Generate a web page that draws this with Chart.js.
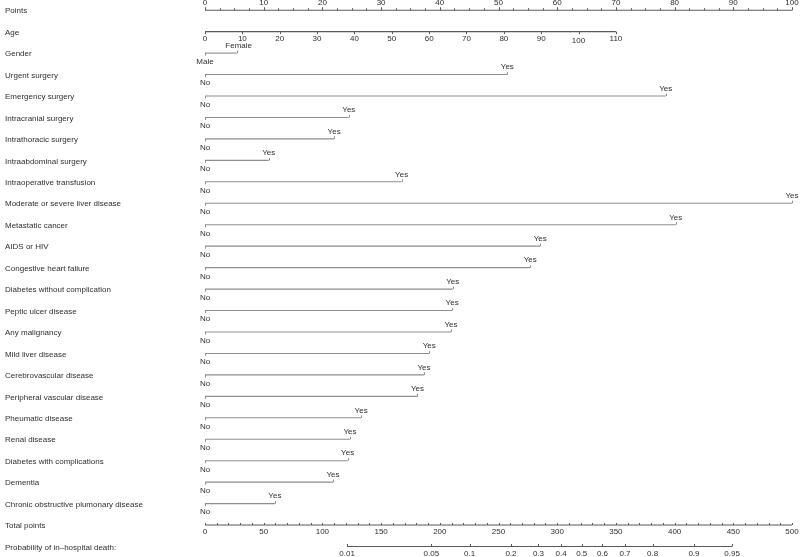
<!DOCTYPE html>
<html>
<head>
<meta charset="utf-8">
<script src="https://cdn.jsdelivr.net/npm/chart.js@4.4.1/dist/chart.umd.min.js"></script>
<style>
  html, body { margin: 0; padding: 0; background: #fff; }
  canvas { display: block; }
</style>
</head>
<body>
<canvas id="nomogram" width="800" height="557"></canvas>
<script>
// rows of the nomogram, top to bottom
const binaryVars = [
  "Urgent surgery",
  "Emergency surgery",
  "Intracranial surgery",
  "Intrathoracic surgery",
  "Intraabdominal surgery",
  "Intraoperative transfusion",
  "Moderate or severe liver disease",
  "Metastatic cancer",
  "AIDS or HIV",
  "Congestive heart failure",
  "Diabetes without complication",
  "Peptic ulcer disease",
  "Any malignancy",
  "Mild liver disease",
  "Cerebrovascular disease",
  "Peripheral vascular disease",
  "Pheumatic disease",
  "Renal disease",
  "Diabetes with complications",
  "Dementia",
  "Chronic obstructive plumonary disease",
];
// points given for "Yes" (No = 0)
const yesPoints = [51.5, 78.5, 24.5, 22.0, 10.85, 33.5, 100, 80.2, 57.1, 55.4, 42.2, 42.1, 41.9, 38.2, 37.3, 36.2, 26.6, 24.7, 24.3, 21.8, 11.9];

const pointTicks = [0, 10, 20, 30, 40, 50, 60, 70, 80, 90, 100];
const ageTicks = [0, 10, 20, 30, 40, 50, 60, 70, 80, 90, 100, 110];
const ageMaxPoints = 70; // age 110 -> 70 points
const genderLevels = ["Male", "Female"];
const genderPoints = [0, 5.4];
const totalTicks = [0, 50, 100, 150, 200, 250, 300, 350, 400, 450, 500];
const totalMax = 500;
const probTicks = [0.01, 0.05, 0.1, 0.2, 0.3, 0.4, 0.5, 0.6, 0.7, 0.8, 0.9, 0.95];
// total points at p = 0.5 and total points per logit unit
const probMid = 320.9;
const probSlope = 43.5;

const rowLabels = ["Points", "Age", "Gender"]
  .concat(binaryVars)
  .concat(["Total points", "Probability of in\u2013hospital death:"]);
const ROW_TOTAL = rowLabels.length - 2;
const ROW_PROB = rowLabels.length - 1;

const lineColor = "#8e8e8e";
const axisColor = "#5a5a5a";
const textColor = "#2e2e2e";
const FONT = "8px 'Liberation Sans', Arial, sans-serif";

const totalToPts = (t) => (t * 100) / totalMax;
const probToPts = (p) => totalToPts(probMid + probSlope * Math.log(p / (1 - p)));

function seg(x0, x1, row, color) {
  return {
    data: [{ x: x0, y: row }, { x: x1, y: row }],
    showLine: true,
    borderColor: color,
    borderWidth: 1.1,
    pointRadius: 0,
    clip: false,
  };
}

const datasets = [];
datasets.push(seg(0, 100, 0, axisColor));
datasets.push(seg(0, ageMaxPoints, 1, axisColor));
datasets.push(seg(genderPoints[0], genderPoints[1], 2, lineColor));
yesPoints.forEach((v, i) => datasets.push(seg(0, v, i + 3, lineColor)));
datasets.push(seg(0, 100, ROW_TOTAL, axisColor));
datasets.push(seg(probToPts(probTicks[0]), probToPts(probTicks[probTicks.length - 1]), ROW_PROB, axisColor));

const nomogramText = {
  id: "nomogramText",
  afterDatasetsDraw(chart) {
    const { ctx, scales } = chart;
    const X = (v) => scales.x.getPixelForValue(v);
    const Y = (r) => scales.y.getPixelForValue(r);
    ctx.save();
    ctx.font = FONT;
    ctx.fillStyle = textColor;
    ctx.textBaseline = "middle";

    // left labels
    ctx.textAlign = "left";
    rowLabels.forEach((lab, r) => ctx.fillText(lab, 5, Y(r) + 1));

    const tick = (x, y, len, color) => {
      ctx.strokeStyle = color;
      ctx.lineWidth = 1;
      ctx.beginPath();
      ctx.moveTo(Math.round(x) + 0.5, y);
      ctx.lineTo(Math.round(x) + 0.5, y + len);
      ctx.stroke();
    };

    ctx.textAlign = "center";
    // Points axis
    for (let v = 0; v <= 100; v += 2.5) tick(X(v), Y(0), -2, axisColor);
    pointTicks.forEach((v) => {
      tick(X(v), Y(0), -3, axisColor);
      ctx.fillText(String(v), X(v), Y(0) - 7.4);
    });

    // Age axis
    ageTicks.forEach((a) => {
      const x = X((a * ageMaxPoints) / ageTicks[ageTicks.length - 1]);
      tick(x, Y(1), 2.5, axisColor);
      ctx.fillText(String(a), x, Y(1) + 7.5 + (a === 100 ? 2 : 0));
    });

    // Gender
    tick(X(genderPoints[0]), Y(2), 2.5, lineColor);
    tick(X(genderPoints[1]), Y(2), -2.5, lineColor);
    ctx.fillText(genderLevels[1], X(genderPoints[1]) + 2, Y(2) - 7);
    ctx.fillText(genderLevels[0], X(genderPoints[0]), Y(2) + 8.7);

    // binary rows
    yesPoints.forEach((v, i) => {
      const r = i + 3;
      tick(X(0), Y(r), 2.5, lineColor);
      tick(X(v), Y(r), -2.5, lineColor);
      ctx.fillText("Yes", X(v), Y(r) - 7.4);
      ctx.fillText("No", X(0), Y(r) + 8.7);
    });

    // Total points axis
    for (let t = 0; t <= totalMax; t += 10) tick(X(totalToPts(t)), Y(ROW_TOTAL), -2, axisColor);
    totalTicks.forEach((t) => {
      ctx.fillText(String(t), X(totalToPts(t)), Y(ROW_TOTAL) + 7);
    });

    // Probability axis
    probTicks.forEach((p) => {
      const x = X(probToPts(p));
      tick(x, Y(ROW_PROB), -2.5, axisColor);
      ctx.fillText(String(p), x, Y(ROW_PROB) + 7.6);
    });

    ctx.restore();
  },
};

new Chart(document.querySelector("#nomogram"), {
  type: "scatter",
  data: { datasets },
  options: {
    responsive: false,
    animation: false,
    events: [],
    layout: { padding: { left: 205, right: 8, top: 10.2, bottom: 10.5 } },
    plugins: { legend: { display: false }, tooltip: { enabled: false } },
    scales: {
      x: { type: "linear", min: 0, max: 100, display: false },
      y: { type: "linear", min: 0, max: ROW_PROB, reverse: true, display: false },
    },
  },
  plugins: [nomogramText],
});
</script>
</body>
</html>
